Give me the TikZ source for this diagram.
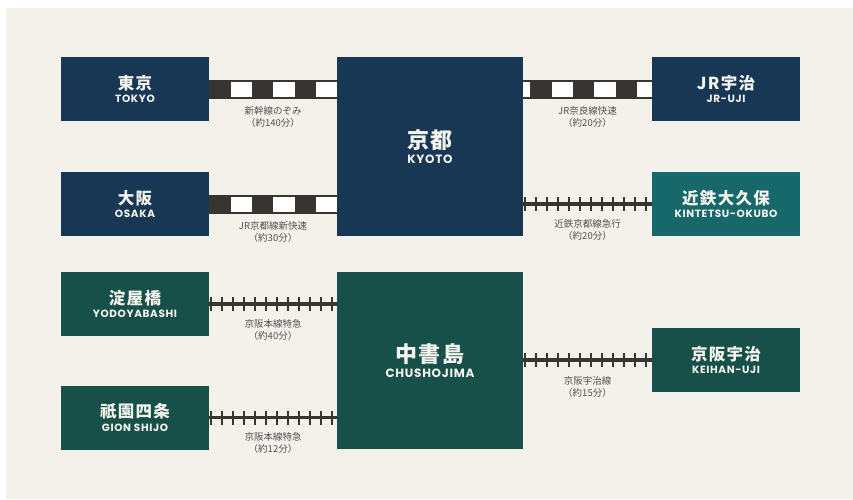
\documentclass[tikz,border=0pt]{standalone}
\usepackage{fontspec}
\usepackage{tikz}
\usetikzlibrary{decorations.markings}
\newfontfamily\jpfont{Noto Sans CJK JP}
\newfontfamily\jptitle{Noto Sans CJK JP}[LetterSpace=8]
\newfontfamily\enfont{Poppins}[LetterSpace=6]
\definecolor{navy}{RGB}{23,55,85}
\definecolor{kintetsu}{RGB}{22,104,106}
\definecolor{keihan}{RGB}{22,80,72}
\definecolor{paper}{RGB}{244,241,235}
\definecolor{railgray}{RGB}{55,52,50}
\definecolor{notegray}{RGB}{80,80,80}
\definecolor{cream}{RGB}{245,243,238}
\tikzstyle{station}=[inner sep=0pt,align=center,text=cream,minimum width=148pt,minimum height=64pt]
\tikzstyle{hub}=[station,minimum width=186pt,minimum height=178pt]
\tikzstyle{jrbed}=[draw=railgray,line width=19pt]
\tikzstyle{jrtie}=[draw=white,line width=15pt,dash pattern=on 21.33pt off 21.33pt]
\tikzstyle{track}=[draw=railgray,line width=3.5pt,postaction={decorate}]
\tikzstyle{railnote}=[inner sep=0pt,align=center,text=notegray,font=\jpfont\fontsize{9.5}{12}\selectfont]
\newcommand{\stn}[2]{{\jptitle\bfseries\fontsize{16.5}{17}\selectfont #1}\\[1.5pt]{\enfont\bfseries\fontsize{10.5}{10}\selectfont #2}}
\newcommand{\bigstn}[2]{{\jptitle\bfseries\fontsize{22}{22}\selectfont #1}\\[3pt]{\enfont\bfseries\fontsize{12}{10}\selectfont #2}}

\begin{document}
\begin{tikzpicture}[x=1pt,y=-1pt,decoration={
        markings,
        mark=between positions 2pt and -1pt step 11pt with {\draw[railgray,line width=2pt] (0pt,-7pt) -- (0pt,7pt);}}]

      \useasboundingbox (0,0) rectangle (853,499);
      \fill[white] (0,0) rectangle (853,499);
      \fill[paper] (6,8) rectangle (853,499);

      \node[station,fill=navy] (tokyo) at (135,89) {\stn{東京}{TOKYO}};
      \node[station,fill=navy] (osaka) at (135,204) {\stn{大阪}{OSAKA}};
      \node[hub,fill=navy,minimum height=179pt] (kyoto) at (430,146.5) {\bigstn{京都}{KYOTO}};
      \node[station,fill=navy] (jruji) at (726,89) {\stn{JR宇治}{JR-UJI}};
      \node[station,fill=kintetsu] (kintetsu) at (726,204) {\stn{近鉄大久保}{KINTETSU-OKUBO}};

      \node[station,fill=keihan] (yodoyabashi) at (135,304) {\stn{淀屋橋}{YODOYABASHI}};
      \node[station,fill=keihan] (gion) at (135,417.5) {\stn{祇園四条}{GION SHIJO}};
      \node[hub,fill=keihan,minimum height=177pt] (chushojima) at (430,360.5) {\bigstn{中書島}{CHUSHOJIMA}};
      \node[station,fill=keihan] (keihanuji) at (726,360) {\stn{京阪宇治}{KEIHAN-UJI}};

      \foreach \u in {tokyo,osaka}{
        \draw[jrbed] (\u.east) -- (\u.east -| kyoto.west);
        \draw[jrtie,dash phase=21.33pt] (\u.east) -- (\u.east -| kyoto.west);
      }
      \draw[jrbed] (kyoto.east |- jruji.west) -- (jruji.west);
      \draw[jrtie,dash phase=14.3pt] (kyoto.east |- jruji.west) -- (jruji.west);

      \draw[track] (kyoto.east |- kintetsu.west) -- (kintetsu.west);
      \foreach \u in {yodoyabashi,gion}{
        \draw[track] (\u.east) -- (\u.east -| chushojima.west);
      }
      \draw[track] (chushojima.east |- keihanuji.west) -- (keihanuji.west);

      \node[railnote] (tokyonote) at (273,117) {新幹線のぞみ\\（約140分）};
      \node[railnote] (osakanote) at (273,232) {JR京都線新快速\\（約30分）};
      \node[railnote] (jrujinote) at (587.5,117) {JR奈良線快速\\（約20分）};
      \node[railnote] (kintetsunote) at (587.5,230) {近鉄京都線急行\\（約20分）};
      \node[railnote] (yodoyabashinote) at (273,330) {京阪本線特急\\（約40分）};
      \node[railnote] (gionnote) at (273,443) {京阪本線特急\\（約12分）};
      \node[railnote] (keihanujinote) at (587.5,387) {京阪宇治線\\（約15分）};
    \end{tikzpicture}
\end{document}
